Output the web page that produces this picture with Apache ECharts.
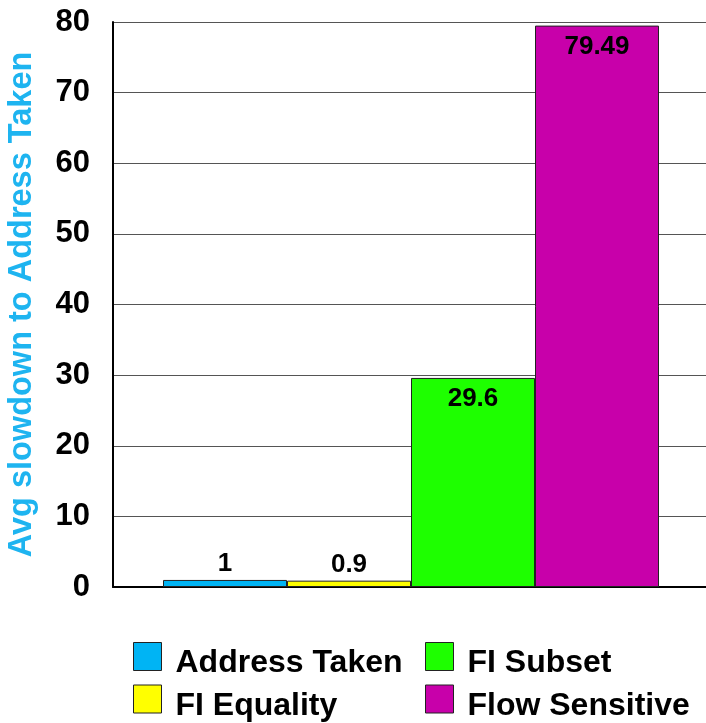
<!DOCTYPE html>
<html>
<head>
<meta charset="utf-8">
<script src="https://cdn.jsdelivr.net/npm/echarts@6/dist/echarts.min.js"></script>
<style>
  html, body { margin: 0; padding: 0; background: #fff; }
  #chart { width: 706px; height: 723px; }
</style>
</head>
<body>
<div id="chart"></div>
<script>
// Average slowdown of each analysis relative to Address Taken
const seriesNames = ['Address Taken', 'FI Equality', 'FI Subset', 'Flow Sensitive'];
const seriesValues = [1, 0.9, 29.6, 79.49];
const seriesColors = ['#00B4F4', '#FFFF00', '#1EFF00', '#C800AA'];
const yTicks = { min: 0, max: 80, interval: 10 };
const axisTitle = 'Avg slowdown to Address Taken';

const FONT = '"Liberation Sans", Arial, sans-serif';

const series = seriesNames.map((name, i) => ({
  name: name,
  type: 'bar',
  data: [seriesValues[i]],
  barWidth: 124,
  barGap: '0%',
  itemStyle: { color: seriesColors[i], borderColor: '#222', borderWidth: 1 },
  label: {
    show: true,
    position: seriesValues[i] > 5 ? 'insideTop' : 'top',
    distance: seriesValues[i] > 5 ? 8 : 3,
    color: '#000',
    fontFamily: FONT,
    fontWeight: 'bold',
    fontSize: 26
  }
}));

// Legend text sits a little lower than its swatch; a rich token with top padding pushes it down.
const legendCommon = {
  orient: 'vertical',
  padding: 0,
  itemWidth: 28,
  itemHeight: 28,
  itemGap: 5,
  icon: 'rect',
  itemStyle: { borderColor: '#222', borderWidth: 1 },
  formatter: '{t|{name}}',
  textStyle: {
    fontFamily: FONT, fontWeight: 'bold', fontSize: 32, color: '#000',
    padding: [0, 0, 0, 9],
    rich: {
      t: { fontFamily: FONT, fontWeight: 'bold', fontSize: 32, color: '#000', padding: [14, 0, 0, 0] }
    }
  }
};

const chart = echarts.init(document.getElementById('chart'), null, { renderer: 'canvas' });
chart.setOption({
  backgroundColor: '#fff',
  animation: false,
  grid: { left: 113, top: 22, right: -3, bottom: 136, outerBoundsMode: 'none' },
  legend: [
    Object.assign({ left: 133, top: 642, height: 100, data: [seriesNames[0], seriesNames[1]] }, legendCommon),
    Object.assign({ left: 425, top: 642, height: 100, data: [seriesNames[2], seriesNames[3]] }, legendCommon)
  ],
  xAxis: {
    type: 'category',
    data: [''],
    axisLine: { show: true, lineStyle: { color: '#000', width: 2 } },
    axisTick: { show: false },
    axisLabel: { show: false }
  },
  yAxis: {
    type: 'value',
    min: yTicks.min,
    max: yTicks.max,
    interval: yTicks.interval,
    name: axisTitle,
    nameLocation: 'middle',
    nameGap: 74,
    nameTextStyle: { color: '#1EB4F0', fontFamily: FONT, fontWeight: 'bold', fontSize: 32.5 },
    axisLine: { show: true, lineStyle: { color: '#000', width: 2 } },
    axisTick: { show: false },
    axisLabel: { color: '#000', fontFamily: FONT, fontWeight: 'bold', fontSize: 31, margin: 23 },
    splitLine: { show: true, lineStyle: { color: '#555', width: 1 } }
  },
  series: series
});
</script>
</body>
</html>
